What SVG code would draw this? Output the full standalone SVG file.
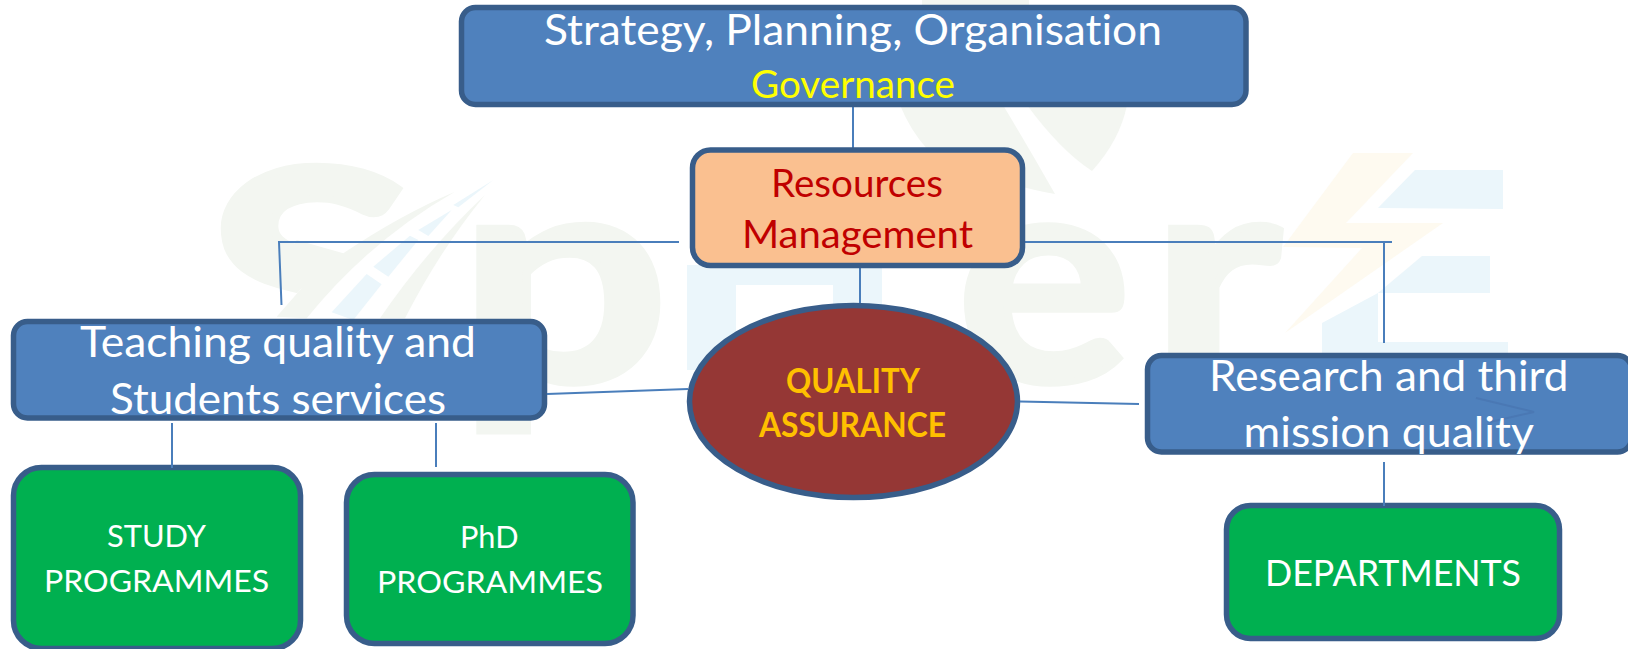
<svg xmlns="http://www.w3.org/2000/svg" width="1628" height="649" viewBox="0 0 1628 649">
<style>
text{font-family:"Lato","Open Sans","Liberation Sans",sans-serif;text-anchor:start;font-variant-ligatures:none}
.wm{font-size:298px;font-weight:700;fill:#f3f6f1;stroke:#f3f6f1;stroke-width:7}
.g{fill:#f3f6f1}.b{fill:#ebf6fb}.y{fill:#fefaf0}
.box{stroke:#385d8a;stroke-width:5.500}
.blue{fill:#4f81bd}.green{fill:#00b050}
.c{fill:none;stroke:#4a7ebb;stroke-width:2}
.w{fill:#fff}
.t40{font-size:42px;fill:#fff}
.t30{font-size:31px;fill:#fff}
.t36r{font-size:38px;fill:#c00000}
.qa{font-size:34px;font-weight:700;fill:#ffc000}
</style>
<defs><clipPath id="rc"><rect x="1145" y="353" width="483" height="102"/></clipPath></defs>
<rect width="1628" height="649" fill="#fff"/>
<g id="watermark">
<text class="wm" x="205" y="384" textLength="212" lengthAdjust="spacingAndGlyphs">S</text>
<text class="wm" x="458" y="381" textLength="211" lengthAdjust="spacingAndGlyphs">p</text>
<text class="wm" x="957" y="381" textLength="174" lengthAdjust="spacingAndGlyphs">e</text>
<text class="wm" x="1151" y="381" textLength="130" lengthAdjust="spacingAndGlyphs">r</text>
<path class="b" fill-rule="evenodd" d="M687 265H882V370H833V285H736V370H687Z"/>
<path class="g" d="M922 0H1029V6H922Z"/>
<path class="g" d="M900 105Q910 130 928 150L1000 180Q1030 190 1055 194Q1030 150 1003 105Z"/>
<path class="g" d="M1027 105Q1060 150 1092 171Q1120 140 1127 105Z"/>
<polygon class="y" points="1353,153 1413,153 1346,223 1443,223 1285,333 1362,248 1283,247"/>
<polygon class="b" points="1415,170 1503,170 1503,209 1378,208"/>
<polygon class="b" points="1422,256 1490,256 1490,293 1378,293"/>
<polygon class="b" points="1322,323 1378,293 1378,342 1508,342 1508,360 1322,360"/>
<g transform="translate(210 150) scale(.3333)">
<path class="w" d="M735,125L850,80L860,140L590,510H280L190,505L275,415L400,310Z"/>
<path class="g" d="M735,125Q570,195 400,310L260,270L190,400L275,415L200,500L290,505Q480,270 735,125Z"/>
<path class="g" d="M825,135Q650,300 510,505H585Q690,300 825,135Z"/>
<polygon class="b" points="850,90 730,165 745,172"/>
<polygon class="b" points="725,180 625,240 655,258"/>
<polygon class="b" points="600,257 490,350 535,380 625,270"/>
<polygon class="b" points="470,372 365,487 430,510 515,403"/>
</g>
</g>
<g id="connectors" class="c">
<path class="c" d="M853 104V149"/>
<path class="c" d="M860 266V309"/>
<path class="c" d="M679 242H279L281.500 305"/>
<path class="c" d="M1023 242H1392"/>
<path class="c" d="M1384 242V343"/>
</g>
<g id="n-strategy">
<rect class="box blue" x="461.500" y="7.500" width="784.500" height="97" rx="14"/>
<text class="t40" x="544" y="45" textLength="618" lengthAdjust="spacingAndGlyphs">Strategy, Planning, Organisation</text>
<text x="751" y="98" font-size="38" fill="#ffff00" textLength="204" lengthAdjust="spacingAndGlyphs">Governance</text>
</g>
<g id="n-resources">
<rect class="box" fill="#fac090" x="692.500" y="150" width="330" height="115.500" rx="18"/>
<text class="t36r" x="771" y="197" textLength="172" lengthAdjust="spacingAndGlyphs">Resources</text>
<text class="t36r" x="742" y="248" textLength="231" lengthAdjust="spacingAndGlyphs">Management</text>
</g>
<g id="n-teaching">
<rect class="box blue" x="13.500" y="321.500" width="531" height="96.500" rx="14"/>
<text class="t40" x="80" y="357" textLength="396" lengthAdjust="spacingAndGlyphs">Teaching quality and</text>
<text class="t40" x="110" y="414" textLength="336" lengthAdjust="spacingAndGlyphs">Students services</text>
</g>
<g id="n-qa">
<ellipse class="box" fill="#953735" cx="853.500" cy="401.500" rx="164" ry="96"/>
<text class="qa" x="786" y="393" textLength="134" lengthAdjust="spacingAndGlyphs">QUALITY</text>
<text class="qa" x="759" y="437" textLength="187" lengthAdjust="spacingAndGlyphs">ASSURANCE</text>
</g>
<g id="n-research">
<rect class="box blue" x="1147.500" y="355.500" width="484" height="96.500" rx="14"/>
<path d="M1476 398L1534 412L1490 422" fill="none" stroke="#4a78b4" stroke-width="2"/>
<g clip-path="url(#rc)">
<text class="t40" x="1209" y="391" textLength="359.500" lengthAdjust="spacingAndGlyphs">Research and third</text>
<text class="t40" x="1243.500" y="447" textLength="290.500" lengthAdjust="spacingAndGlyphs">mission quality</text>
</g>
</g>
<g id="n-study">
<rect class="box green" x="13.500" y="467.500" width="287" height="181" rx="28"/>
<text class="t30" x="107" y="547" textLength="99" lengthAdjust="spacingAndGlyphs">STUDY</text>
<text class="t30" x="44" y="592" textLength="225" lengthAdjust="spacingAndGlyphs">PROGRAMMES</text>
</g>
<g id="n-phd">
<rect class="box green" x="346.500" y="474.500" width="286.500" height="169" rx="28"/>
<text class="t30" x="460" y="548" textLength="58.500" lengthAdjust="spacingAndGlyphs">PhD</text>
<text class="t30" x="377" y="593" textLength="226" lengthAdjust="spacingAndGlyphs">PROGRAMMES</text>
</g>
<g id="n-departments">
<rect class="box green" x="1226.500" y="505.500" width="333" height="133" rx="24"/>
<text x="1265" y="586" font-size="37" fill="#fff" textLength="256" lengthAdjust="spacingAndGlyphs">DEPARTMENTS</text>
</g>
<g id="connectors-2" class="c">
<path class="c" d="M547 394L688 389"/>
<path class="c" d="M1020 401.500L1139 404"/>
<path class="c" d="M172 423V468"/>
<path class="c" d="M436 423V467"/>
<path class="c" d="M1384 462V506"/>
</g>
</svg>
